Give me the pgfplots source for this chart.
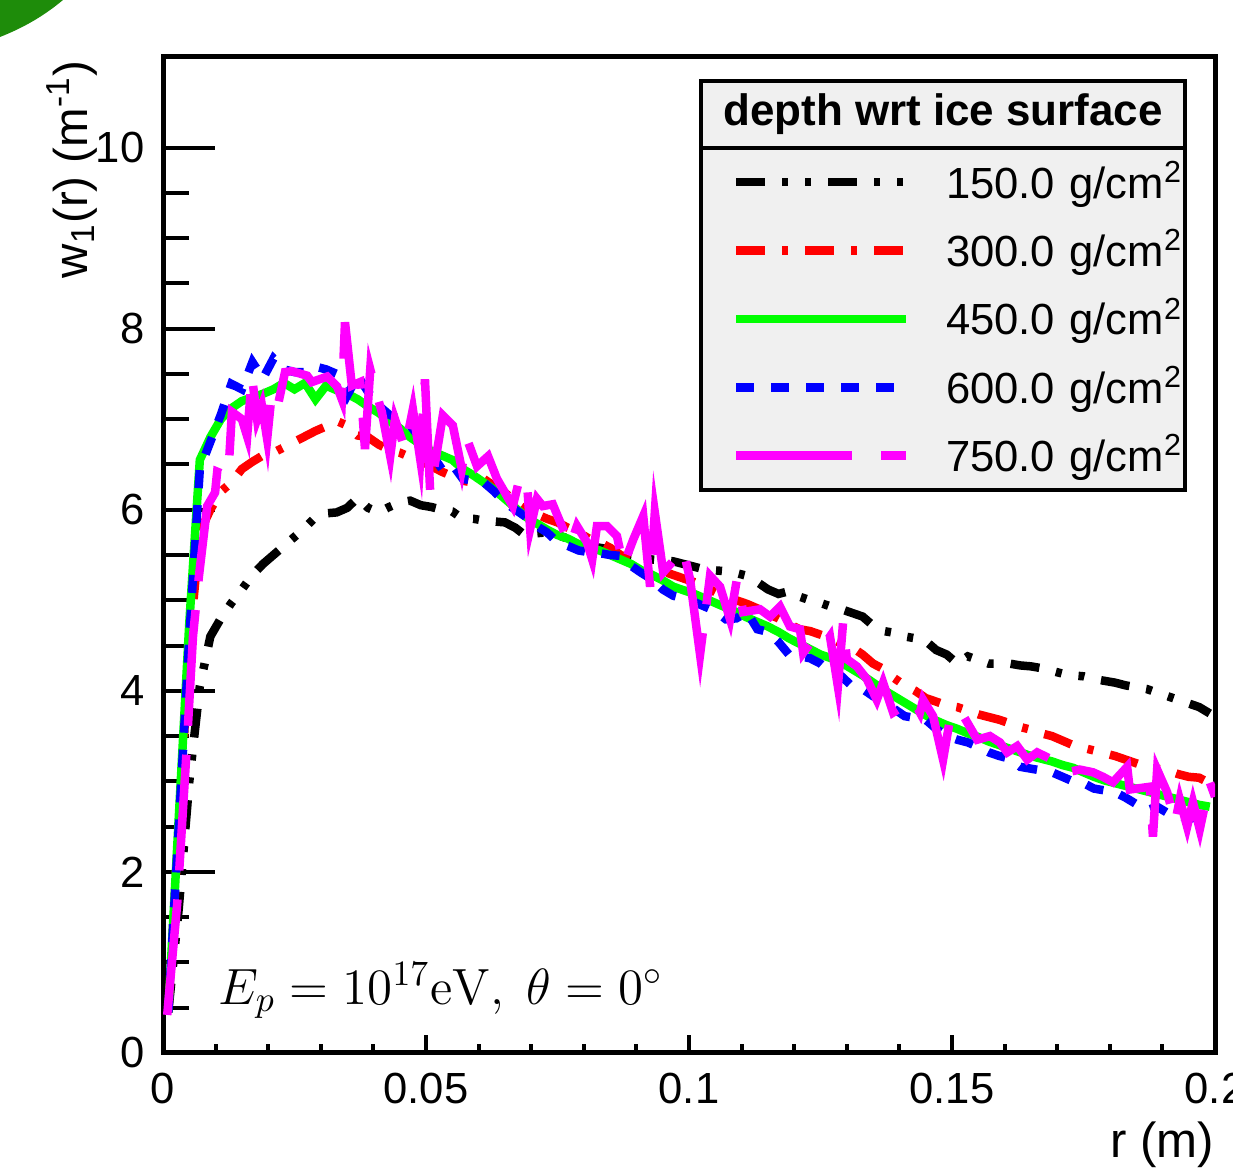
\RequirePackage{fix-cm}
\documentclass[border=0pt]{standalone}
\usepackage[no-math]{fontspec}
\setmainfont{Liberation Sans}
\usepackage{pgfplots}
\pgfplotsset{compat=1.18}
\definecolor{leggray}{RGB}{240,240,240}
\definecolor{cornergreen}{RGB}{30,140,10}
\definecolor{rgreen}{RGB}{0,255,0}
\definecolor{rblue}{RGB}{0,0,255}
\definecolor{rred}{RGB}{255,0,0}
\definecolor{rmag}{RGB}{255,0,255}
\begin{document}
\begin{tikzpicture}
\useasboundingbox (0,0) rectangle (123.3mm,117mm);
\clip (0,0) rectangle (123.3mm,117mm);
\fill[cornergreen] (0,117mm) -- (6.3mm,117mm) .. controls (4.4mm,115.4mm) and (2.3mm,114.2mm) .. (0,113.3mm) -- cycle;
\begin{axis}[
  at={(16.3mm,11.7mm)}, anchor=south west,
  scale only axis, width=105.2mm, height=99.6mm,
  xmin=0, xmax=0.2, ymin=0, ymax=11,
  xtick={0,0.05,0.1,0.15,0.2}, xticklabels={0,0.05,0.1,0.15,0.2},
  ytick={0,2,4,6,8,10}, yticklabels={0,2,4,6,8,10},
  minor x tick num=4, minor y tick num=3,
  tick align=inside, xtick pos=bottom, ytick pos=left,
  axis line style={line width=0.5mm},
  every tick/.append style={line width=0.4mm, black},
  xtick style={/pgfplots/major tick length=1.8mm, /pgfplots/minor tick length=0.9mm},
  ytick style={/pgfplots/major tick length=5.2mm, /pgfplots/minor tick length=2.6mm},
  tick label style={font=\fontsize{12.4}{14}\selectfont},
  /pgf/number format/assume math mode=true,
  xticklabel style={anchor=north, inner sep=0pt, yshift=-1.9mm},
  yticklabel style={anchor=east, inner sep=0pt, xshift=-1.8mm},
  xlabel={r (m)},
  xlabel style={at={(axis description cs:1,-0.1054)}, anchor=base east, inner sep=0pt, font=\fontsize{14}{16}\selectfont},
  ylabel={w\textsubscript{1}(r) (m\textsuperscript{-1})},
  ylabel style={at={(axis description cs:-0.0722,0.997)}, anchor=base east, inner sep=0pt, font=\fontsize{13.5}{16}\selectfont},
  legend style={at={(axis description cs:0.9734,0.5633)}, anchor=south east, draw=black, line width=0.4mm, fill=leggray, inner xsep=3.1mm, inner ysep=0pt, row sep=0pt, column sep=3.55mm, font=\fontsize{12.4}{14}\selectfont, nodes={inner sep=0pt, text width=20.8mm, minimum height=6.84mm, align=left}},
  legend cell align=left,
  legend image code/.code={\draw[#1] (0mm,0mm) -- (17mm,0mm);},
  clip mode=individual,
]
\addplot[black, line width=0.85mm, line cap=butt, line join=miter, dash pattern=on 2.9mm off 1.7mm on 0.6mm off 1.7mm on 0.6mm off 1.7mm] coordinates {
(0.001,0.45)(0.003,1.6)(0.005,3.0)(0.007,4.05)(0.009,4.6)(0.011,4.8)(0.013,4.97)(0.015,5.12)(0.017,5.28)(0.019,5.40)
(0.021,5.50)(0.023,5.60)(0.025,5.70)(0.027,5.80)(0.029,5.92)(0.031,5.96)(0.033,5.97)(0.035,6.02)(0.037,6.13)(0.039,6.02)
(0.041,5.97)(0.043,6.03)(0.045,6.08)(0.047,6.10)(0.049,6.05)(0.051,6.03)(0.053,6.00)(0.055,5.98)(0.057,5.90)(0.059,5.90)
(0.061,5.88)(0.063,5.87)(0.065,5.86)(0.067,5.80)(0.069,5.71)(0.071,5.74)(0.073,5.75)(0.075,5.72)(0.077,5.68)(0.079,5.62)
(0.081,5.60)(0.083,5.58)(0.085,5.56)(0.087,5.52)(0.089,5.48)(0.091,5.47)(0.093,5.45)(0.095,5.44)(0.097,5.43)(0.099,5.40)
(0.101,5.37)(0.103,5.34)(0.105,5.33)(0.107,5.32)(0.109,5.30)(0.111,5.27)(0.113,5.20)(0.115,5.12)(0.117,5.07)(0.119,5.10)
(0.121,5.04)(0.123,5.00)(0.125,4.97)(0.127,4.93)(0.129,4.90)(0.131,4.86)(0.133,4.82)(0.135,4.72)(0.137,4.66)(0.139,4.64)
(0.141,4.60)(0.143,4.58)(0.145,4.55)(0.147,4.45)(0.149,4.40)(0.151,4.30)(0.153,4.38)(0.155,4.34)(0.157,4.30)(0.159,4.30)
(0.161,4.30)(0.163,4.28)(0.165,4.27)(0.167,4.25)(0.169,4.22)(0.171,4.19)(0.173,4.17)(0.175,4.16)(0.177,4.13)(0.179,4.11)
(0.181,4.09)(0.183,4.06)(0.185,4.04)(0.187,4.02)(0.189,3.98)(0.191,3.94)(0.193,3.90)(0.195,3.86)(0.197,3.82)(0.199,3.75)};
\addlegendentry{\mbox{150.0 g/cm\textsuperscript{2}}}
\addplot[rred, line width=0.85mm, line cap=butt, line join=miter, dash pattern=on 2.9mm off 1.7mm on 0.6mm off 1.7mm] coordinates {
(0.001,0.45)(0.003,2.5)(0.005,4.5)(0.007,5.75)(0.009,6.0)(0.011,6.2)(0.013,6.3)(0.015,6.45)(0.017,6.53)(0.019,6.6)
(0.021,6.63)(0.023,6.69)(0.025,6.75)(0.027,6.81)(0.029,6.87)(0.031,6.92)(0.033,6.98)(0.035,6.93)(0.037,6.82)(0.039,6.80)
(0.041,6.72)(0.043,6.66)(0.045,6.63)(0.047,6.58)(0.049,6.54)(0.051,6.48)(0.053,6.42)(0.055,6.37)(0.057,6.32)(0.059,6.30)
(0.061,6.34)(0.063,6.26)(0.065,6.19)(0.067,6.08)(0.069,6.00)(0.071,5.95)(0.073,5.90)(0.075,5.86)(0.077,5.80)(0.079,5.75)
(0.081,5.68)(0.083,5.64)(0.085,5.58)(0.087,5.50)(0.089,5.45)(0.091,5.40)(0.093,5.36)(0.095,5.32)(0.097,5.28)(0.099,5.24)
(0.101,5.20)(0.103,5.15)(0.105,5.09)(0.107,5.06)(0.109,5.00)(0.111,4.96)(0.113,4.91)(0.115,4.85)(0.117,4.80)(0.119,4.74)
(0.121,4.68)(0.123,4.66)(0.125,4.62)(0.127,4.58)(0.129,4.52)(0.131,4.48)(0.133,4.40)(0.135,4.30)(0.137,4.24)(0.139,4.14)
(0.141,4.06)(0.143,4.00)(0.145,3.92)(0.147,3.88)(0.149,3.84)(0.151,3.82)(0.153,3.78)(0.155,3.74)(0.157,3.71)(0.159,3.68)
(0.161,3.64)(0.163,3.60)(0.165,3.57)(0.167,3.53)(0.169,3.50)(0.171,3.45)(0.173,3.40)(0.175,3.37)(0.177,3.34)(0.179,3.31)
(0.181,3.28)(0.183,3.24)(0.185,3.20)(0.187,3.16)(0.189,3.14)(0.191,3.12)(0.193,3.08)(0.195,3.05)(0.197,3.04)(0.199,2.98)};
\addlegendentry{\mbox{300.0 g/cm\textsuperscript{2}}}
\addplot[rgreen, line width=0.85mm, line cap=butt, line join=miter] coordinates {
(0.001,0.45)(0.003,2.6)(0.005,4.75)(0.007,6.55)(0.009,6.8)(0.011,7.0)(0.013,7.12)(0.015,7.2)(0.017,7.24)(0.019,7.28)
(0.021,7.33)(0.023,7.40)(0.025,7.33)(0.027,7.40)(0.029,7.22)(0.031,7.37)(0.033,7.32)(0.035,7.28)(0.037,7.22)(0.039,7.14)
(0.041,7.07)(0.043,6.98)(0.045,6.90)(0.047,6.80)(0.049,6.72)(0.051,6.65)(0.053,6.60)(0.055,6.55)(0.057,6.45)(0.059,6.38)
(0.061,6.30)(0.063,6.22)(0.065,6.12)(0.067,6.02)(0.069,5.92)(0.071,5.85)(0.073,5.78)(0.075,5.72)(0.077,5.68)(0.079,5.62)
(0.081,5.58)(0.083,5.55)(0.085,5.50)(0.087,5.45)(0.089,5.40)(0.091,5.33)(0.093,5.28)(0.095,5.22)(0.097,5.15)(0.099,5.11)
(0.101,5.07)(0.103,5.02)(0.105,4.97)(0.107,4.92)(0.109,4.87)(0.111,4.81)(0.113,4.76)(0.115,4.71)(0.117,4.65)(0.119,4.58)
(0.121,4.52)(0.123,4.46)(0.125,4.40)(0.127,4.36)(0.129,4.31)(0.131,4.24)(0.133,4.17)(0.135,4.09)(0.137,4.01)(0.139,3.94)
(0.141,3.87)(0.143,3.80)(0.145,3.73)(0.147,3.67)(0.149,3.62)(0.151,3.58)(0.153,3.53)(0.155,3.49)(0.157,3.44)(0.159,3.40)
(0.161,3.36)(0.163,3.32)(0.165,3.28)(0.167,3.25)(0.169,3.22)(0.171,3.18)(0.173,3.15)(0.175,3.10)(0.177,3.05)(0.179,3.01)
(0.181,2.98)(0.183,2.95)(0.185,2.92)(0.187,2.89)(0.189,2.86)(0.191,2.83)(0.193,2.80)(0.195,2.77)(0.197,2.74)(0.199,2.72)};
\addlegendentry{\mbox{450.0 g/cm\textsuperscript{2}}}
\addplot[rblue, line width=0.85mm, line cap=butt, line join=miter, dash pattern=on 1.8mm off 1.7mm] coordinates {
(0.001,0.45)(0.003,2.5)(0.005,4.6)(0.007,6.45)(0.009,6.75)(0.011,7.05)(0.013,7.39)(0.015,7.33)(0.017,7.63)(0.019,7.45)
(0.021,7.67)(0.023,7.55)(0.025,7.52)(0.027,7.52)(0.029,7.58)(0.031,7.55)(0.033,7.50)(0.035,7.26)(0.037,7.48)(0.039,7.30)
(0.041,7.15)(0.043,7.05)(0.045,7.00)(0.047,6.93)(0.049,6.78)(0.051,6.62)(0.053,6.45)(0.055,6.50)(0.057,6.34)(0.059,6.32)
(0.061,6.30)(0.063,6.20)(0.065,6.08)(0.067,6.00)(0.069,5.92)(0.071,5.82)(0.073,5.75)(0.075,5.64)(0.077,5.60)(0.079,5.55)
(0.081,5.53)(0.083,5.52)(0.085,5.50)(0.087,5.49)(0.089,5.38)(0.091,5.30)(0.093,5.23)(0.095,5.12)(0.097,5.05)(0.099,5.02)
(0.101,4.98)(0.103,4.93)(0.105,4.88)(0.107,4.79)(0.109,4.80)(0.111,4.87)(0.113,4.68)(0.115,4.65)(0.117,4.54)(0.119,4.40)
(0.121,4.38)(0.123,4.36)(0.125,4.30)(0.127,4.20)(0.129,4.16)(0.131,4.05)(0.133,4.02)(0.135,3.94)(0.137,3.90)(0.139,3.80)
(0.141,3.72)(0.143,3.70)(0.145,3.68)(0.147,3.58)(0.149,3.50)(0.151,3.46)(0.153,3.43)(0.155,3.38)(0.157,3.32)(0.159,3.28)
(0.161,3.25)(0.163,3.16)(0.165,3.14)(0.167,3.12)(0.169,3.10)(0.171,3.05)(0.173,3.00)(0.175,2.98)(0.177,2.92)(0.179,2.90)
(0.181,2.88)(0.183,2.82)(0.185,2.75)(0.187,2.68)(0.189,2.72)(0.191,2.65)(0.193,2.63)(0.195,2.58)(0.197,2.62)(0.199,2.60)};
\addlegendentry{\mbox{600.0 g/cm\textsuperscript{2}}}
\addplot[rmag, line width=0.85mm, line cap=butt, line join=miter, dash pattern=on 11.6mm off 2.9mm] coordinates {
(0.0008,0.42)(0.0027,1.65)(0.0044,3.26)(0.0057,4.6)(0.0068,5.25)(0.0084,6.04)(0.0099,6.19)(0.0103,6.42)(0.0124,6.37)(0.0131,7.08)
(0.0150,7.0)(0.0160,6.81)(0.0169,7.48)(0.0179,7.0)(0.0188,7.15)(0.0198,6.78)(0.0207,7.3)(0.0219,7.17)(0.0232,7.52)(0.0245,7.53)
(0.0274,7.48)(0.0283,7.41)(0.0312,7.47)(0.0331,7.36)(0.0340,7.22)(0.0346,8.07)(0.0359,7.37)(0.0375,7.41)(0.0384,6.67)(0.0394,7.55)
(0.0407,7.26)(0.0416,7.08)(0.0432,6.59)(0.0441,7.0)(0.0460,6.67)(0.0475,7.11)(0.0489,6.56)(0.0498,7.44)(0.0508,6.19)(0.0532,7.04)
(0.0551,6.93)(0.0568,6.45)(0.0578,6.78)(0.0597,6.48)(0.0618,6.59)(0.0635,6.34)(0.0665,6.04)(0.0679,6.37)(0.0692,6.3)(0.0698,5.79)
(0.0711,6.12)(0.0722,6.04)(0.0741,6.06)(0.0774,5.6)(0.0787,5.82)(0.0806,5.64)(0.0816,5.45)(0.0825,5.82)(0.0844,5.82)(0.0863,5.71)
(0.0875,5.38)(0.0894,5.67)(0.0913,5.93)(0.0926,5.15)(0.0935,5.97)(0.0951,5.31)(0.0989,5.56)(0.1002,5.23)(0.1021,4.4)(0.1040,5.27)
(0.1059,5.15)(0.1078,4.79)(0.1091,5.23)(0.1103,4.87)(0.1135,4.9)(0.1154,4.82)(0.1173,4.93)(0.1192,4.71)(0.1211,4.68)(0.1217,4.42)
(0.1236,4.57)(0.1255,4.49)(0.1268,4.6)(0.1283,4.05)(0.1293,4.76)(0.1300,4.35)(0.1319,4.27)(0.1338,4.13)(0.1357,3.9)(0.1369,4.09)
(0.1388,3.76)(0.1407,3.83)(0.1426,3.9)(0.1439,3.76)(0.1445,3.9)(0.1464,3.72)(0.1483,3.24)(0.1496,3.68)(0.1515,3.79)(0.1548,3.46)
(0.1572,3.5)(0.1591,3.43)(0.1605,3.32)(0.1624,3.39)(0.1643,3.24)(0.1662,3.32)(0.1700,3.21)(0.1719,3.1)(0.1743,3.13)(0.1768,3.1)
(0.1787,3.05)(0.1806,2.99)(0.1833,3.16)(0.1838,2.91)(0.1876,2.94)(0.1882,2.39)(0.1890,3.13)(0.1909,2.88)(0.1924,2.54)(0.1933,2.8)
(0.1947,2.5)(0.1958,2.77)(0.1971,2.47)(0.1990,2.99)(0.2000,2.83)};
\addlegendentry{\mbox{750.0 g/cm\textsuperscript{2}}}
\node[draw=black, line width=0.4mm, fill=leggray, minimum width=48.4mm, minimum height=6.7mm, inner sep=0pt, anchor=south east, font=\fontsize{12.5}{14}\selectfont\bfseries] at (axis description cs:0.9734,0.9066) {depth wrt ice surface};
\node[anchor=base west, inner sep=0pt, font=\fontsize{14.5}{17}\selectfont] at (axis cs:0.0105,0.54) {$E_p = 10^{17}\mathrm{eV},\ \theta = 0^{\circ}$};
\end{axis}
\end{tikzpicture}
\end{document}
